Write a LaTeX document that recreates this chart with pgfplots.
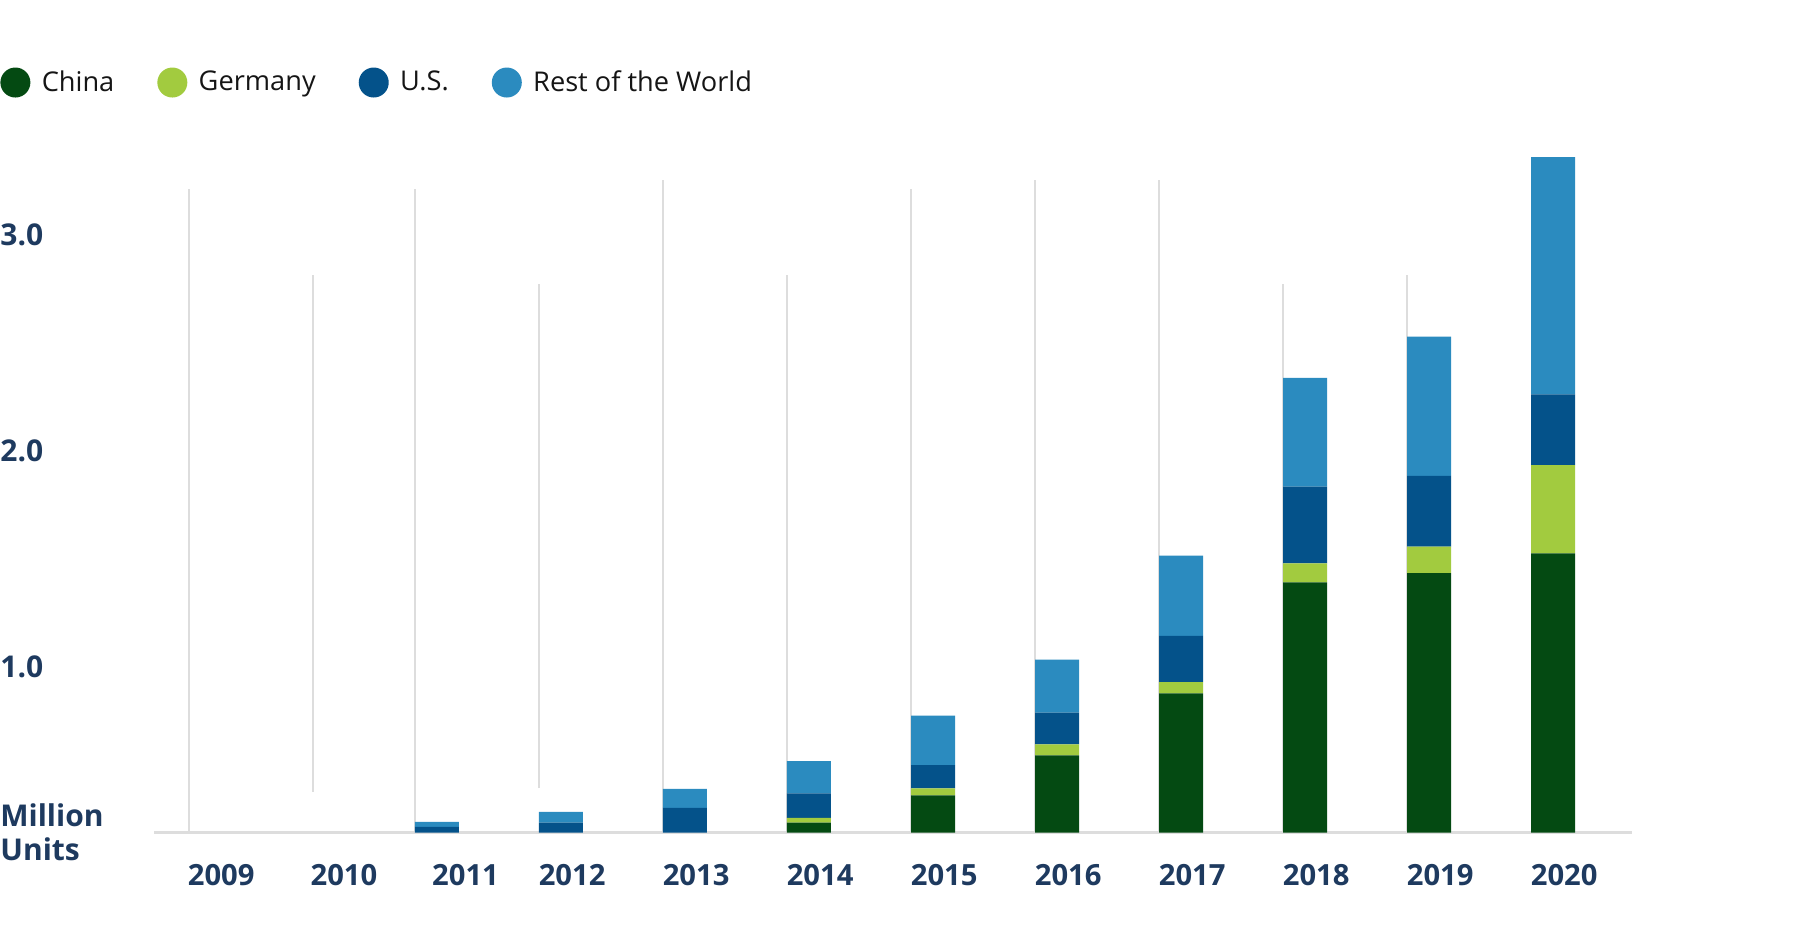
\documentclass[border=0pt]{standalone}
\usepackage{fontspec}
\setmainfont{Open Sans}
\usepackage{pgfplots}
\pgfplotsset{compat=1.18}
\definecolor{cChina}{HTML}{044A12}
\definecolor{cGermany}{HTML}{A2CB3F}
\definecolor{cUS}{HTML}{04528A}
\definecolor{cRoW}{HTML}{2B8BBF}
\definecolor{navy}{HTML}{1E3A5F}
\definecolor{gridGray}{HTML}{DDDDDD}
\definecolor{legText}{HTML}{151515}
\pgfplotsset{
  base/.style={
    at={(77pt,57.25pt)}, anchor=south west,
    scale only axis, width=739pt, height=366.7pt,
    xmin=-0.282, xmax=11.637, ymin=0, ymax=3.4,
  }
}
\begin{document}
\begin{tikzpicture}
\path[use as bounding box] (0,0) rectangle (909pt,473.5pt);
% light vertical guide lines
\begin{axis}[base, axis lines=none]
\addplot[draw=gridGray, line width=0.8pt] coordinates {(0,0) (0,2.983)};
\addplot[draw=gridGray, line width=0.8pt] coordinates {(1,0.188) (1,2.586)};
\addplot[draw=gridGray, line width=0.8pt] coordinates {(1.822,0) (1.822,2.983)};
\addplot[draw=gridGray, line width=0.8pt] coordinates {(2.822,0.206) (2.822,2.543)};
\addplot[draw=gridGray, line width=0.8pt] coordinates {(3.822,0) (3.822,3.026)};
\addplot[draw=gridGray, line width=0.8pt] coordinates {(4.822,0) (4.822,2.586)};
\addplot[draw=gridGray, line width=0.8pt] coordinates {(5.822,0) (5.822,2.983)};
\addplot[draw=gridGray, line width=0.8pt] coordinates {(6.822,0) (6.822,3.026)};
\addplot[draw=gridGray, line width=0.8pt] coordinates {(7.822,0) (7.822,3.026)};
\addplot[draw=gridGray, line width=0.8pt] coordinates {(8.822,0) (8.822,2.543)};
\addplot[draw=gridGray, line width=0.8pt] coordinates {(9.822,0) (9.822,2.586)};
\end{axis}
\begin{axis}[base,
  axis x line*=bottom, axis y line*=left,
  x axis line style={draw=gridGray, line width=1.2pt, -},
  y axis line style={draw=none},
  tick style={draw=none},
  xtick={0.26,1.25,2.23,3.09,4.09,5.09,6.09,7.09,8.09,9.09,10.09,11.09},
  xticklabels={2009,2010,2011,2012,2013,2014,2015,2016,2017,2018,2019,2020},
  ytick={0,0.77,1.77,2.77},
  yticklabels={{Million\\Units},1.0,2.0,3.0},
  xticklabel style={font=\fontsize{14.6}{16}\selectfont\bfseries, text=navy, yshift=-12.3pt},
  yticklabel style={font=\fontsize{15}{17.2}\selectfont\bfseries, text=navy, anchor=west, xshift=-77pt, inner xsep=0pt, align=left},
  ybar stacked, bar width=22pt,
  clip=false,
  legend columns=4,
  legend style={draw=none, fill=none, at={(-0.1042,1.0226)}, anchor=west, inner sep=0pt,
    font=\fontsize{13.6}{15}\selectfont, text=legText,
    /tikz/every odd column/.append style={column sep=3.7pt},
    /tikz/every even column/.append style={column sep=19.5pt}},
]
\addplot[fill=cChina, draw=none, legend image code/.code={\fill[cChina] (0pt,0pt) circle (7.5pt);}] coordinates {
(0,0) (1,0) (2,0) (3,0) (4,0) (5,0.046) (6,0.172) (7,0.357) (8,0.645) (9,1.160) (10,1.202) (11,1.294)};
\addlegendentry{China}
\addplot[fill=cGermany, draw=none, legend image code/.code={\fill[cGermany] (0pt,0pt) circle (7.5pt);}] coordinates {
(0,0) (1,0) (2,0) (3,0) (4,0) (5,0.022) (6,0.032) (7,0.052) (8,0.052) (9,0.088) (10,0.123) (11,0.409)};
\addlegendentry{Germany}
\addplot[fill=cUS, draw=none, legend image code/.code={\fill[cUS] (0pt,0pt) circle (7.5pt);}] coordinates {
(0,0) (1,0) (2,0.026) (3,0.046) (4,0.114) (5,0.113) (6,0.108) (7,0.147) (8,0.215) (9,0.355) (10,0.328) (11,0.328)};
\addlegendentry{U.S.}
\addplot[fill=cRoW, draw=none, legend image code/.code={\fill[cRoW] (0pt,0pt) circle (7.5pt);}] coordinates {
(0,0) (1,0) (2,0.023) (3,0.050) (4,0.088) (5,0.150) (6,0.230) (7,0.246) (8,0.371) (9,0.505) (10,0.646) (11,1.100)};
\addlegendentry{Rest of the World}
\end{axis}
\end{tikzpicture}
\end{document}
